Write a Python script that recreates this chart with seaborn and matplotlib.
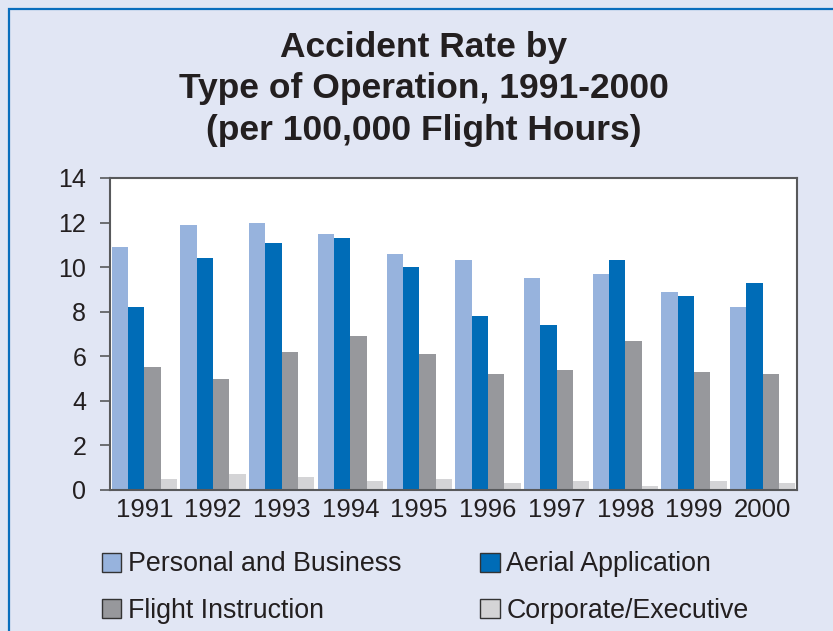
import matplotlib
matplotlib.use("Agg")
import matplotlib.pyplot as plt
import matplotlib.patches as mpatches
import pandas as pd
import seaborn as sns

years = ["1991", "1992", "1993", "1994", "1995", "1996", "1997", "1998", "1999", "2000"]
personal_business = [10.9, 11.9, 12.0, 11.5, 10.6, 10.3, 9.5, 9.7, 8.9, 8.2]
aerial_application = [8.2, 10.4, 11.1, 11.3, 10.0, 7.8, 7.4, 10.3, 8.7, 9.3]
flight_instruction = [5.5, 5.0, 6.2, 6.9, 6.1, 5.2, 5.4, 6.7, 5.3, 5.2]
corporate_executive = [0.5, 0.7, 0.6, 0.4, 0.5, 0.3, 0.4, 0.2, 0.4, 0.3]

series_names = ["Personal and Business", "Aerial Application",
                "Flight Instruction", "Corporate/Executive"]
series_colors = ["#97B3DD", "#006CB7", "#97989C", "#D4D4D6"]

title = "Accident Rate by\nType of Operation, 1991-2000\n(per 100,000 Flight Hours)"

bg = "#E1E6F4"
text_color = "#231F20"
spine_color = "#58595B"

plt.rcParams['font.family'] = ['Liberation Sans', 'DejaVu Sans']
plt.rcParams['text.color'] = text_color

df = pd.DataFrame({
    'year': years * 4,
    'rate': personal_business + aerial_application + flight_instruction + corporate_executive,
    'type': [n for n in series_names for _ in years],
})

fig = plt.figure(figsize=(8.33, 6.31), dpi=100, facecolor=bg)
ax = fig.add_axes([0.132, 0.2235, 0.825, 0.4945])
ax.set_facecolor("white")

sns.barplot(data=df, x='year', y='rate', hue='type', hue_order=series_names,
            palette=series_colors, saturation=1, width=0.95, linewidth=0,
            legend=False, ax=ax)

ax.set_xlim(-0.5, len(years) - 0.5)
ax.set_ylim(0, 14)
ax.set_yticks(range(0, 15, 2))
ax.set_xlabel("")
ax.set_ylabel("")

for s in ax.spines.values():
    s.set_color(spine_color)
    s.set_linewidth(1.5)

ax.tick_params(axis='y', direction='out', length=7, width=1.2, color=spine_color,
               pad=10, labelsize=18, labelcolor=text_color)
ax.tick_params(axis='x', length=0, pad=6, labelsize=18.5, labelcolor=text_color)

fig.text(0.509, 0.859, title, ha='center', va='center', fontsize=25.5,
         fontweight='bold', linespacing=1.34, color=text_color)

handles = [mpatches.Patch(facecolor=c, edgecolor="#333333", linewidth=1.0, label=n)
           for n, c in zip(series_names, series_colors)]
order = [0, 2, 1, 3]
fig.legend([handles[i] for i in order], [series_names[i] for i in order],
           ncol=2, loc='upper left', bbox_to_anchor=(0.122, 0.126),
           frameon=False, fontsize=19.3, handlelength=0.72, handleheight=0.72,
           handletextpad=0.25, columnspacing=2.95, labelspacing=0.75, borderpad=0,
           borderaxespad=0)

border = mpatches.Rectangle((8.5 / 833, -0.1), 1.2, 0.1 + 1 - 8.5 / 631,
                            transform=fig.transFigure, fill=False,
                            edgecolor="#0A6EBD", linewidth=1.6, clip_on=False)
fig.patches.append(border)

plt.savefig("out.png", dpi=100, facecolor=bg)
